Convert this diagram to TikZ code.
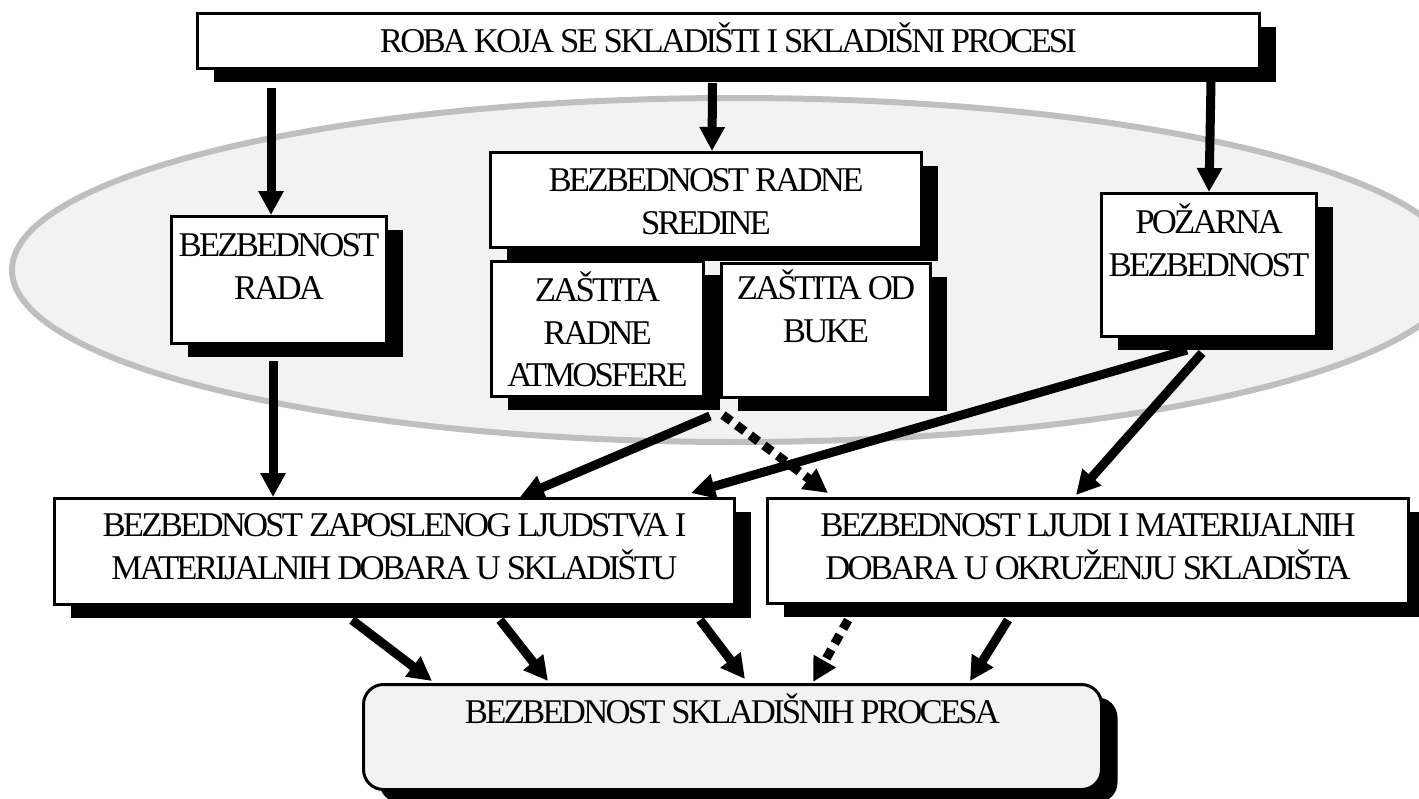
\documentclass[tikz,border=0pt]{standalone}
\usepackage{fontspec}
\setmainfont{Liberation Serif}[LetterSpace=-8]
\usetikzlibrary{shadows,arrows.meta,calc}

\begin{document}
\begin{tikzpicture}[x=1pt,y=-1pt,
  box/.style={draw,line width=3pt,fill=white,anchor=north west,inner sep=0pt,align=flush center,
    font=\fontsize{34.7}{42.5}\selectfont,
    drop shadow={shadow xshift=16pt,shadow yshift=-13pt,fill=black,opacity=1}},
  arr/.style={line width=9pt,-{Triangle[width=24pt,length=24pt]}},
  darr/.style={arr,dash pattern=on 10pt off 7pt}]

\useasboundingbox (0,0) rectangle (1419,798);

\draw[line width=6pt,draw=black!25,fill=black!5] (735,270) ellipse [x radius=723,y radius=172];

\node[box,text width=1062pt,text height=39pt,text depth=16pt] (roba) at (196,12)
  {ROBA KOJA SE SKLADIŠTI I SKLADIŠNI PROCESI};
\node[box,text width=215pt,text height=40pt,text depth=87pt] (rada) at (170,215)
  {BEZBEDNOST\\RADA};
\node[box,text width=431pt,text height=39pt,text depth=56pt] (sredine) at (489,151)
  {BEZBEDNOST RADNE\\SREDINE};
\node[box,text width=212pt,text height=40pt,text depth=95pt] (atmosfere) at (490,260)
  {ZAŠTITA\\RADNE\\ATMOSFERE};
\node[box,text width=209pt,text height=36pt,text depth=98pt] (buka) at (720,262)
  {ZAŠTITA OD\\BUKE};
\node[box,text width=215pt,text height=40pt,text depth=103pt] (pozarna) at (1100,192)
  {POŽARNA\\BEZBEDNOST};
\node[box,text width=680pt,text height=38pt,text depth=68pt] (zaposleni) at (53,497)
  {BEZBEDNOST ZAPOSLENOG LJUDSTVA I\\MATERIJALNIH DOBARA U SKLADIŠTU};
\node[box,text width=641pt,text height=38pt,text depth=67pt] (okruzenje) at (766,497)
  {BEZBEDNOST LJUDI I MATERIJALNIH\\DOBARA U OKRUŽENJU SKLADIŠTA};
\node[box,fill=black!5,rounded corners=20pt,text width=738pt,text height=39pt,text depth=66pt] (procesi) at (362,683)
  {BEZBEDNOST SKLADIŠNIH PROCESA};

\draw[arr] ($(roba.south west)+(75,18)$) -- ($(rada.north west)+(101,0)$);
\draw[arr] ($(roba.south)+(-16,13)$) -- ($(sredine.north)+(6,0)$);
\draw[arr] ($(roba.south east)+(-50,11)$) -- (pozarna.north);

\draw[arr] ($(rada.south)+(-6,16)$) -- ($(zaposleni.north west)+(220,0)$);
\draw[arr] ($(atmosfere.south east)+(5,18)$) -- ($(zaposleni.north west)+(467,0)$);
\draw[arr] ($(pozarna.south)+(-22,12)$) -- ($(zaposleni.north east)+(-45,-4)$);
\draw[arr] ($(pozarna.south)+(-7,15)$) -- ($(okruzenje.north west)+(310,-2)$);
\draw[darr] ($(atmosfere.south east)+(18,17)$) -- ($(okruzenje.north west)+(62,-4)$);

\draw[arr] ($(zaposleni.south west)+(299,14)$) -- ($(procesi.north west)+(70,-2)$);
\draw[arr] ($(zaposleni.south west)+(447,14)$) -- ($(procesi.north west)+(186,-2)$);
\draw[arr] ($(zaposleni.south west)+(647,14)$) -- ($(procesi.north west)+(383,-4)$);
\draw[darr] ($(okruzenje.south west)+(82,15)$) -- ($(procesi.north west)+(451,-1)$);
\draw[arr] ($(okruzenje.south west)+(242,15)$) -- ($(procesi.north west)+(608,-2)$);

\end{tikzpicture}
\end{document}
